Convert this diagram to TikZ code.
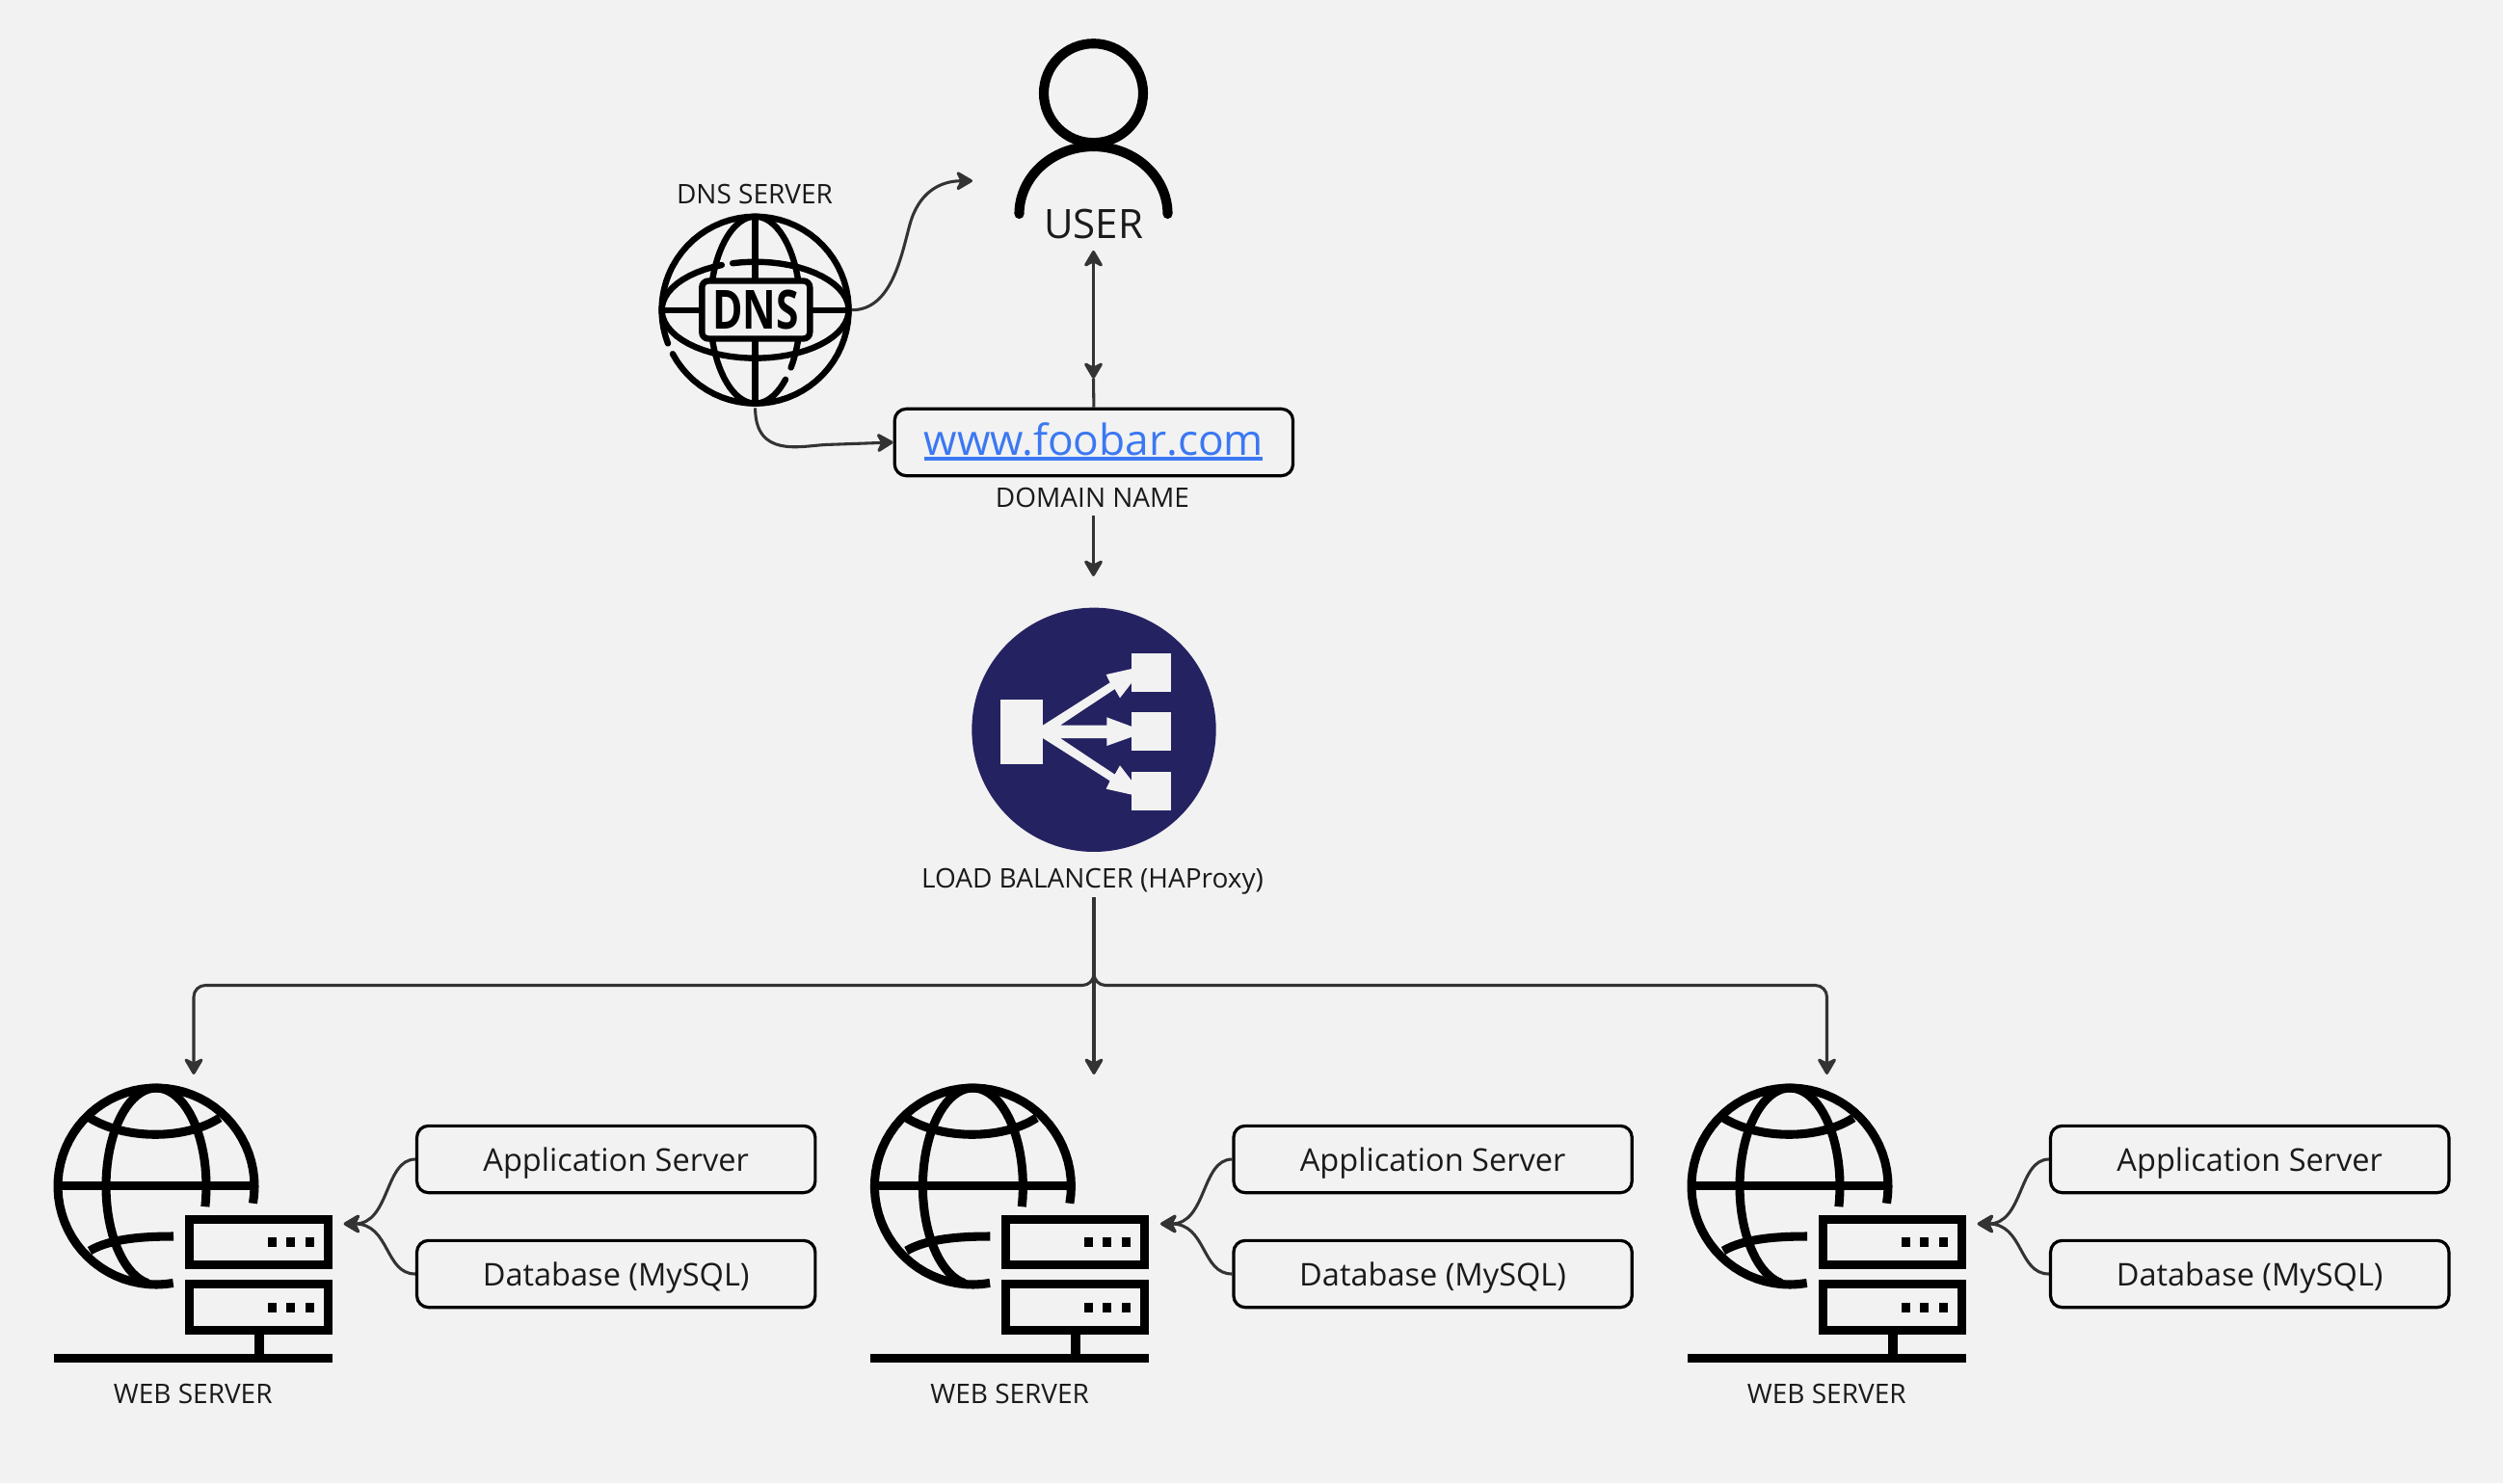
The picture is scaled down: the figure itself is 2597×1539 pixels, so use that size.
\documentclass[tikz,border=0pt]{standalone}
\usepackage{fontspec}
\setmainfont{Open Sans}
\usetikzlibrary{arrows.meta,calc}
\definecolor{bgc}{HTML}{F2F2F2}
\definecolor{inkc}{HTML}{000000}
\definecolor{linec}{HTML}{333333}
\definecolor{txtc}{HTML}{1A1A1A}
\definecolor{linkc}{HTML}{3B78F2}
\definecolor{lbc}{HTML}{252262}
\tikzset{
  headtip/.tip={Stealth[length=15pt,width=17.5pt,inset=4.5pt,round]},
  conn/.style={draw=linec,line width=2.3pt},
  arr/.style={conn,-headtip},
  darr/.style={conn,headtip-headtip},
  labelbox/.style={draw=black,line width=2.4pt,rounded corners=9pt,fill=bgc,text=txtc,minimum width=310pt,minimum height=52pt,inner sep=0pt,text height=19pt,text depth=0pt,font=\fontsize{24.4}{28}\selectfont},
  small/.style={text=txtc,inner sep=0pt,text height=15pt,text depth=0pt,font=\fontsize{21}{24}\selectfont},
  iconbox/.style={inner sep=0pt,draw=none},
  ico/.style={draw=inkc,line width=4.8pt,line cap=round},
  web/.style={draw=inkc,line width=6.8pt,line cap=butt},
}
\newcommand\earc[6]{plot[domain=#5:#6,samples=60] ({#1+(#2)*cos(\x)},{#3+(#4)*sin(\x)})}
\begin{document}
\begin{tikzpicture}[x=0.75pt,y=-0.75pt]
\useasboundingbox[fill=bgc] (0,0) rectangle (2597,1539);

% user
\draw[draw=inkc,line width=7.6pt] (1134.5,96.7) circle[radius=51.5];
\draw[draw=inkc,line width=7.6pt,line cap=round] \earc{1134.5}{77}{222}{70}{180}{360};
\node[text=txtc,inner sep=0pt,font=\fontsize{31.5}{36}\selectfont] (usertext) at (1134.5,232) {USER};
\node[iconbox,minimum width=120pt,minimum height=150pt] (user) at (1134.5,145) {};

% DNS
\node[small] (dnslabel) at (783,201) {DNS SERVER};
\draw[ico] \earc{783.6}{97}{321.7}{97}{-152}{152};
\draw[ico] \earc{783.6}{97}{321.7}{97}{159}{208};
\draw[ico] \earc{783.6}{47}{321.7}{97}{-48}{38};
\draw[ico] \earc{783.6}{47}{321.7}{97}{48}{312};
\draw[ico] \earc{783.6}{97}{321.7}{50}{-104}{249};
\draw[ico] (783.6,224.7) -- (783.6,418.7);
\draw[ico] (686.6,321.7) -- (880.6,321.7);
\node[draw=inkc,line width=4.8pt,rounded corners=5pt,fill=bgc,minimum width=84pt,minimum height=45pt,inner sep=0pt] (dnsbox) at (784.3,321.5) {};
\node[inner sep=0pt,text=inkc,text height=30pt,text depth=0pt,font=\bfseries\fontsize{42}{42}\selectfont,xscale=0.76] (dnstext) at (784,321.5) {DNS};
\node[iconbox,circle,minimum size=150pt] (dns) at (783.6,321.7) {};

% domain
\node[labelbox,minimum width=310pt,minimum height=52pt] (domain) at (1134.9,459) {};
\node[inner sep=0pt,text=linkc,font=\fontsize{33.2}{38}\selectfont] (domaintext) at (1134.9,456) {www.foobar.com};
\draw[draw=linkc,line width=2.5pt] (958.5,476) -- (1310,476);
\node[small] (domainlabel) at (1133.5,516.7) {DOMAIN NAME};

% load balancer
\node[circle,fill=lbc,minimum size=190pt,inner sep=0pt] (lb) at (1135,757.3) {};
\begin{scope}[shift={(980,600)},scale=1/3]
 \fill[bgc] (173,378) rectangle (306,578);
 \fill[bgc] (583,233) rectangle (704,353);
 \fill[bgc] (583,418) rectangle (704,538);
 \fill[bgc] (583,604) rectangle (704,724);
 \fill[bgc] (306,458) -- (515,325) -- (503,300) -- (583,282) -- (583,325) -- (546,373) -- (530,345) -- (360,458) -- (505,458) -- (505,433) -- (583,462) -- (583,494) -- (505,522) -- (505,498) -- (360,498) -- (530,611) -- (546,583) -- (583,631) -- (583,674) -- (503,656) -- (515,631) -- (306,498) -- cycle;
\end{scope}
\node[small] (lblabel) at (1133.5,911) {LOAD BALANCER (HAProxy)};

% web servers
\foreach \i/\dx in {1/0,2/847.4,3/1695}{
\begin{scope}[shift={(\dx,0)}]
 \draw[web] \earc{162}{102}{1231}{102}{80}{370};
 \draw[web] \earc{162}{52}{1231}{102}{100}{372};
 \draw[web] (58,1230.7) -- (264,1230.7);
 \draw[web] (93,1160) .. controls (130,1183) and (193,1183) .. (228,1160);
 \draw[web] (93,1298) .. controls (115,1285) and (150,1283) .. (180,1283);
 \draw[web] (196.3,1265.2) rectangle (340.5,1312.8);
 \draw[web] (196.3,1332.5) rectangle (340.5,1380.5);
 \foreach \yy in {1284,1351.7}{
  \fill[inkc] (278,\yy) rectangle ++(9,10);
  \fill[inkc] (297,\yy) rectangle ++(9,10);
  \fill[inkc] (316.5,\yy) rectangle ++(9,10);
 }
 \fill[inkc] (264,1385) rectangle (273.7,1405);
 \fill[inkc] (55.7,1405) rectangle (345,1414.3);
 \node[small] (weblabel\i) at (200.3,1446) {WEB SERVER};
 \node[iconbox,minimum width=217pt,minimum height=217pt] (webicon\i) at (200.3,1270) {};
 \coordinate (webin\i) at (356.7,1270);
 \node[labelbox] (app\i) at (639.2,1203) {Application Server};
 \node[labelbox] (db\i) at (639.2,1322) {Database (MySQL)};
\end{scope}
\draw[arr] (app\i.west) .. controls +(-32,0) and ($(webin\i)+(48,0)$) .. (webin\i);
\draw[arr] (db\i.west) .. controls +(-32,0) and ($(webin\i)+(48,0)$) .. (webin\i);
}
\coordinate (lbout) at (1135,931);
\coordinate (webtop1) at (201,1115);
\coordinate (webtop2) at (1135,1115);
\coordinate (webtop3) at (1895.5,1115);

% connectors
\draw[arr] (dns.east) .. controls (925,321.7) and (935,266) .. (944,233) .. controls (953,200) and (975,187.7) .. (1009,187.7);
\coordinate (dnsbot) at (783.6,423.3);
\draw[conn] (dnsbot) .. controls (783.6,475) and (830,463) .. (856,461.5);
\draw[arr] (856,461.5) -- (domain.west);
\draw[darr] (1134.5,260) -- (1134.5,393);
\draw[conn] (1134.5,393) -- (domain.north);
\draw[arr] (1134.5,535) -- (1134.5,598);
\draw[arr,rounded corners=9pt] (lbout) -- (1135,1022.5) -- (201,1022.5) -- (webtop1);
\draw[arr,rounded corners=9pt] (lbout) -- (1135,1022.5) -- (1895.5,1022.5) -- (webtop3);
\draw[arr] (lbout) -- (webtop2);
\end{tikzpicture}
\end{document}
